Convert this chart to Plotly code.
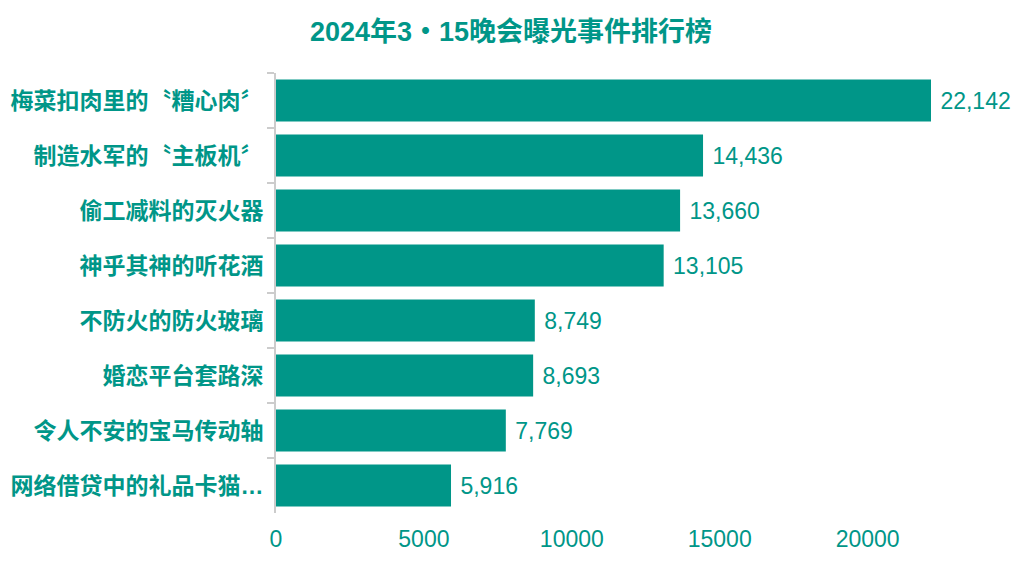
import plotly.graph_objects as go

categories = ["梅菜扣肉里的〝糟心肉〞", "制造水军的〝主板机〞", "偷工减料的灭火器", "神乎其神的听花酒",
              "不防火的防火玻璃", "婚恋平台套路深", "令人不安的宝马传动轴", "网络借贷中的礼品卡猫…"]
values = [22142, 14436, 13660, 13105, 8749, 8693, 7769, 5916]
x_ticks = [0, 5000, 10000, 15000, 20000]
title = "2024年3・15晚会曝光事件排行榜"

TEAL = "#009688"
FONT = "Liberation Sans, Arial, Noto Sans CJK SC, sans-serif"

fig = go.Figure(go.Bar(
    x=values, y=categories, orientation="h",
    marker=dict(color=TEAL, line=dict(width=0)),
    text=[f" {v:,}" for v in values], textposition="outside",
    textfont=dict(color=TEAL, size=23, family=FONT),
    cliponaxis=False, width=0.76,
))

fig.update_layout(
    width=1022, height=565,
    margin=dict(l=268, r=99, t=65, b=60, autoexpand=False),
    paper_bgcolor="white", plot_bgcolor="white",
    title=dict(text=title, x=503 / 1022, xanchor="center", y=1 - 24 / 565, yanchor="middle",
               font=dict(size=27, color=TEAL, family=FONT, weight="bold")),
    showlegend=False,
    bargap=0.24,
)
fig.update_xaxes(range=[0, 22142], tickvals=x_ticks, ticktext=[str(t) for t in x_ticks],
                 showgrid=False, zeroline=False, showline=False, automargin=False,
                 ticks="outside", ticklen=5, tickcolor="rgba(0,0,0,0)",
                 tickfont=dict(size=23, color=TEAL, family=FONT))
fig.update_yaxes(autorange="reversed", type="category", showgrid=False, zeroline=False,
                 showline=True, linecolor="#cccccc", linewidth=2, automargin=False,
                 ticks="outside", tickson="boundaries", ticklen=7, tickcolor="#cccccc", tickwidth=2,
                 ticklabelstandoff=6,
                 tickfont=dict(size=23, color=TEAL, family=FONT, weight="bold"))

fig.write_html("out.html")
